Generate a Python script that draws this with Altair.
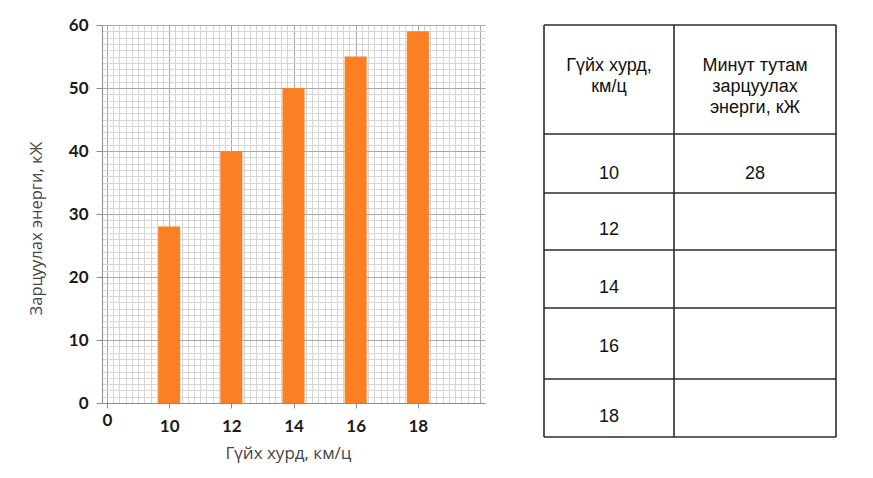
import altair as alt
import pandas as pd

# ---- data ----
speeds = [10, 12, 14, 16, 18]
energy = [28, 40, 50, 55, 59]

header_texts = ["Гүйх хурд,\nкм/ц", "Минут тутам\nзарцуулах\nэнерги, кЖ"]
table_speeds = ["10", "12", "14", "16", "18"]
table_energy = ["28", "", "", "", ""]

x_title = "Гүйх хурд, км/ц"
y_title = "Зарцуулах энерги, кЖ"

# ---- layout (table geometry, in px) ----
row_heights = [109, 59, 57, 58, 71, 58]
col_widths = [130, 162]
row_text_from_bottom = [19, 20, 20, 32, 20]

bar_color = "#FC7F24"
major_grid = "#a9a9a9"
minor_grid = "#d6d6d6"

# ---- bar chart ----
bars_df = pd.DataFrame({"speed": speeds, "energy": energy})

x_vals = [round(8 + 0.2 * i, 1) for i in range(61)]
y_vals = list(range(0, 61))

x_axis = alt.Axis(
    values=x_vals,
    labelExpr="datum.value == 8 ? '0' : ((datum.value % 2 == 0 && datum.value <= 18) ? format(datum.value, 'd') : '')",
    labelOverlap=False,
    labelFlush=False,
    labelAlign="center",
    labelFont="Lato",
    labelFontWeight="bold",
    labelFontSize=17,
    labelColor="#1a1a1a",
    labelPadding={"condition": {"test": "datum.value == 8", "value": 4}, "value": 10},
    gridColor={"condition": {"test": "datum.value % 2 == 0", "value": major_grid}, "value": minor_grid},
    gridWidth=1,
    tickColor="#8c8c8c",
    tickSize=5,
    tickOpacity={"condition": {"test": "datum.value % 2 == 0 && datum.value <= 18", "value": 1}, "value": 0},
    domainColor="#8c8c8c",
    title=x_title,
    titleFont="Open Sans",
    titleFontSize=17,
    titleFontWeight="normal",
    titleColor="#454545",
    titlePadding=11,
    titleX=186,
)

y_axis = alt.Axis(
    values=y_vals,
    labelExpr="datum.value % 10 == 0 ? format(datum.value, 'd') : ''",
    labelOverlap=False,
    labelFont="Lato",
    labelFontWeight="bold",
    labelFontSize=17,
    labelColor="#1a1a1a",
    labelPadding=8,
    gridColor={"condition": {"test": "datum.value % 10 == 0", "value": major_grid}, "value": minor_grid},
    gridWidth=1,
    tickColor="#8c8c8c",
    tickSize=6,
    tickOpacity={"condition": {"test": "datum.value % 10 == 0", "value": 1}, "value": 0},
    domainColor="#8c8c8c",
    title=y_title,
    titleFont="Open Sans",
    titleFontSize=16.5,
    titleFontWeight="normal",
    titleColor="#454545",
    titlePadding=24,
    titleY=203,
)

bars = alt.Chart(bars_df).mark_bar(size=22, color=bar_color).encode(
    x=alt.X("speed:Q", scale=alt.Scale(domain=[8, 20], nice=False, zero=False), axis=x_axis),
    y=alt.Y("energy:Q", scale=alt.Scale(domain=[0, 60], nice=False), axis=y_axis),
).properties(width=383, height=378)

# ---- table ----
row_edges = [0]
for h in row_heights:
    row_edges.append(row_edges[-1] + h)
col_edges = [0]
for w in col_widths:
    col_edges.append(col_edges[-1] + w)
tw, th = col_edges[-1], row_edges[-1]

hlines = pd.DataFrame({"y": row_edges, "x": [0] * len(row_edges), "x2": [tw] * len(row_edges)})
vlines = pd.DataFrame({"x": col_edges, "y": [0] * len(col_edges), "y2": [th] * len(col_edges)})

xs = alt.Scale(domain=[0, tw], nice=False, zero=False)
ys = alt.Scale(domain=[0, th], nice=False, zero=False, reverse=True)

col_centers = [(col_edges[i] + col_edges[i + 1]) / 2 for i in range(len(col_widths))]

header_df = pd.DataFrame({"x": col_centers, "y": [32, 32], "t": header_texts})

cells = []
for i, (s, e) in enumerate(zip(table_speeds, table_energy)):
    yy = row_edges[i + 2] - row_text_from_bottom[i]
    cells.append({"x": col_centers[0], "y": yy, "t": s})
    cells.append({"x": col_centers[1], "y": yy, "t": e})
cells_df = pd.DataFrame(cells)

line_color = "#2b2b2b"
t_h = alt.Chart(hlines).mark_rule(color=line_color, strokeWidth=1.6).encode(
    x=alt.X("x:Q", scale=xs, axis=None), x2="x2:Q", y=alt.Y("y:Q", scale=ys, axis=None)
)
t_v = alt.Chart(vlines).mark_rule(color=line_color, strokeWidth=1.6).encode(
    x=alt.X("x:Q", scale=xs, axis=None), y=alt.Y("y:Q", scale=ys, axis=None), y2="y2:Q"
)
t_head = alt.Chart(header_df).mark_text(
    font="Liberation Sans", fontSize=18, color="#111111", baseline="top", lineBreak="\n", lineHeight=21
).encode(
    x=alt.X("x:Q", scale=xs, axis=None), y=alt.Y("y:Q", scale=ys, axis=None), text="t:N"
)
t_cells = alt.Chart(cells_df).mark_text(
    font="Liberation Sans", fontSize=18, color="#111111", baseline="middle"
).encode(
    x=alt.X("x:Q", scale=xs, axis=None), y=alt.Y("y:Q", scale=ys, axis=None), text="t:N"
)

table = alt.layer(t_h, t_v, t_head, t_cells).properties(width=tw, height=th)

chart = alt.hconcat(bars, table, spacing=58).properties(
    padding={"left": 20, "top": 8, "right": 5, "bottom": 5}
).configure_view(stroke=None)

chart.save("out.html", embed_options={"renderer": "svg", "actions": False})
